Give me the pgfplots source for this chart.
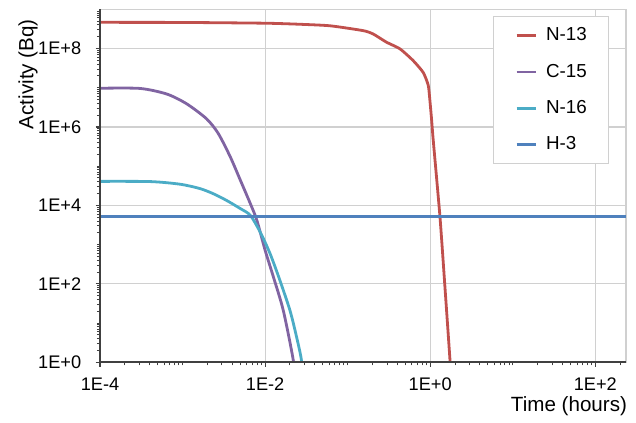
\documentclass[border=0pt]{standalone}
\usepackage{fontspec}
\setmainfont{Liberation Sans}
\usepackage{pgfplots}
\pgfplotsset{compat=1.18}
\definecolor{cN13}{HTML}{C0504D}
\definecolor{cC15}{HTML}{8064A2}
\definecolor{cN16}{HTML}{4BACC6}
\definecolor{cH3}{HTML}{4F81BD}
\definecolor{gridc}{HTML}{D0D0D0}
\definecolor{axc}{HTML}{404040}
\begin{document}
\begin{tikzpicture}
\begin{axis}[name=ax,
 scale only axis, width=263bp, height=176.5bp,
 xmode=log, ymode=log,
 xmin=1e-4, xmax=235, ymin=1, ymax=1e9,
 xtick={1e-4,1e-2,1,100}, xticklabels={1E-4,1E-2,1E+0,1E+2},
 ytick={1,1e2,1e4,1e6,1e8}, yticklabels={1E+0,1E+2,1E+4,1E+6,1E+8},
 minor xtick={2e-4,3e-4,4e-4,5e-4,6e-4,7e-4,8e-4,9e-4,1e-3,2e-3,3e-3,4e-3,5e-3,6e-3,7e-3,8e-3,9e-3,
   2e-2,3e-2,4e-2,5e-2,6e-2,7e-2,8e-2,9e-2,1e-1,2e-1,3e-1,4e-1,5e-1,6e-1,7e-1,8e-1,9e-1,
   2,3,4,5,6,7,8,9,10,20,30,40,50,60,70,80,90,200},
 minor ytick={2,3,4,5,6,7,8,9,10,20,30,40,50,60,70,80,90,
   2e2,3e2,4e2,5e2,6e2,7e2,8e2,9e2,1e3,2e3,3e3,4e3,5e3,6e3,7e3,8e3,9e3,
   2e4,3e4,4e4,5e4,6e4,7e4,8e4,9e4,1e5,2e5,3e5,4e5,5e5,6e5,7e5,8e5,9e5,
   2e6,3e6,4e6,5e6,6e6,7e6,8e6,9e6,1e7,2e7,3e7,4e7,5e7,6e7,7e7,8e7,9e7,
   2e8,3e8,4e8,5e8,6e8,7e8,8e8,9e8},
 xmajorgrids, ymajorgrids,
 major grid style={gridc, line width=0.6bp},
 axis line style={gridc, line width=0.6bp},
 tick align=outside, tick pos=left,
 major tick length=2.2bp, minor tick length=1.6bp,
 major tick style={axc, line width=0.6bp},
 minor tick style={axc, line width=0.5bp},
 tick label style={font=\fontsize{9.1bp}{10bp}\selectfont, inner sep=0pt},
 yticklabel style={anchor=east, xshift=-7bp},
 xticklabel style={anchor=north, yshift=-5.5bp},
 every axis y label/.style={at={(axis description cs:-0.137,0.816)}, rotate=90, anchor=center, font=\fontsize{10.3bp}{12bp}\selectfont},
 every axis x label/.style={at={(axis description cs:0.8916,-0.125)}, anchor=center, font=\fontsize{10.3bp}{12bp}\selectfont},
 xlabel={Time (hours)}, ylabel={Activity (Bq)},
 legend style={at={(axis description cs:0.7466,0.981)}, anchor=north west, draw=gridc, line width=0.6bp, fill=white,
   inner xsep=11bp, inner ysep=5.5bp, row sep=10.1bp, column sep=4.5bp,
   font=\fontsize{9.4bp}{10bp}\selectfont, nodes={inner sep=0pt}},
 legend cell align=left,
 legend image code/.code={\draw[#1] (0bp,0bp) -- (9.5bp,0bp);},
 every axis plot/.append style={line width=1.4bp, line join=round},
]
\addplot[cN13, smooth, tension=0.35] coordinates {
(1e-4,4.65e8) (1e-3,4.62e8) (1e-2,4.42e8) (0.025,4.17e8) (0.061,3.80e8)
(0.155,2.85e8) (0.204,2.34e8) (0.295,1.45e8) (0.430,9.8e7) (0.622,4.9e7)
(0.822,2.45e7) (0.946,1.15e7) (0.991,4.7e6) (1.04,1.48e6) (1.087,4.6e5)
(1.312,5.1e3) (1.507,83) (1.734,1.15) (1.80,0.3)};
\addlegendentry{N-13}
\addplot[cC15, smooth, tension=0.45] coordinates {
(1e-4,9.7e6) (3.05e-4,9.6e6) (6.46e-4,6.9e6) (1.12e-3,3.9e6) (1.95e-3,1.62e6)
(2.71e-3,6.8e5) (3.80e-3,1.7e5) (5.01e-3,4.4e4) (6.61e-3,1.12e4) (7.94e-3,4.2e3)
(1.0e-2,720) (1.26e-2,150) (1.66e-2,21) (2.19e-2,1.15) (2.30e-2,0.3)};
\addlegendentry{C-15}
\addplot[cN16, smooth, tension=0.45] coordinates {
(1e-4,4.1e4) (4.07e-4,4.05e4) (9.33e-4,3.47e4) (1.62e-3,2.69e4) (2.34e-3,2.0e4)
(3.39e-3,1.35e4) (5.01e-3,8.3e3) (6.61e-3,5.6e3) (8.71e-3,2.1e3) (1.148e-2,590)
(1.51e-2,123) (2.0e-2,21) (2.40e-2,4.5) (2.75e-2,1.15) (2.85e-2,0.3)};
\addlegendentry{N-16}
\addplot[cH3] coordinates {(1e-4,5.1e3) (235,5.1e3)};
\addlegendentry{H-3}
\end{axis}
\draw[axc, line width=0.8bp] (ax.north west) -- (ax.south west) -- (ax.south east);
\path ([shift={(-50bp,-28.35bp)}]ax.south west) rectangle ++(318bp,209.5bp);
\end{tikzpicture}
\end{document}
